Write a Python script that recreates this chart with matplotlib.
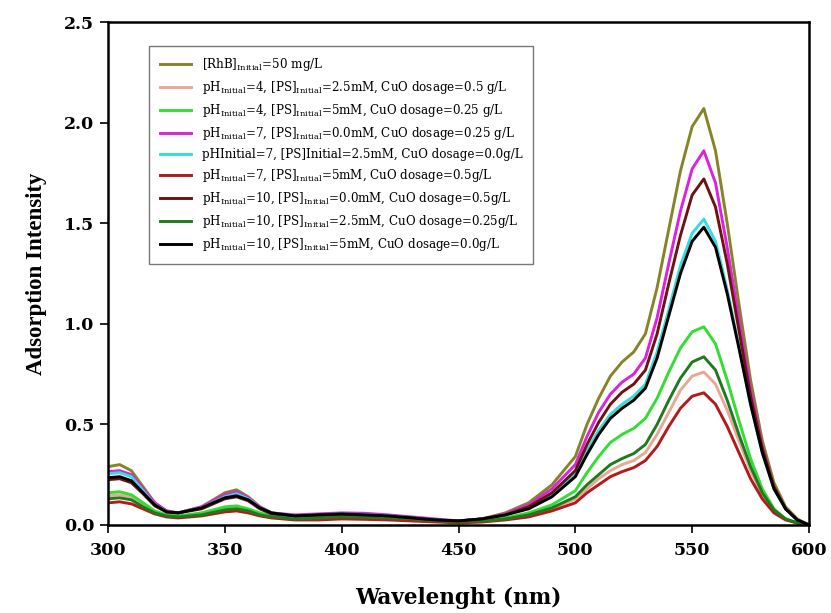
import matplotlib
matplotlib.use("Agg")
import matplotlib.pyplot as plt

wavelength = [300, 305, 310, 315, 320, 325, 330, 340, 350, 355, 360, 365, 370, 380, 390,
              400, 410, 420, 430, 440, 450, 460, 470, 480, 490,
              500, 505, 510, 515, 520, 525, 530, 535, 540, 545, 550, 555, 560, 565, 570,
              575, 580, 585, 590, 595, 600]

rhb_initial = [.29, .30, .27, .19, .11, .07, .06, .09, .16, .175, .14, .09, .06, .045, .045,
               .05, .045, .04, .035, .025, .02, .03, .06, .11, .20,
               .34, .50, .63, .74, .81, .86, .95, 1.18, 1.47, 1.76, 1.98, 2.07, 1.86, 1.50, 1.10,
               .72, .42, .21, .09, .03, 0.0]
ph4_ps25_cuo05 = [.145, .15, .14, .10, .065, .045, .04, .055, .08, .085, .075, .055, .04, .03, .03,
                  .035, .033, .03, .025, .02, .015, .015, .03, .045, .08,
                  .13, .18, .23, .27, .30, .32, .36, .45, .56, .67, .74, .76, .70, .57, .42,
                  .27, .15, .07, .03, .01, 0.0]
ph4_ps5_cuo025 = [.16, .165, .15, .11, .07, .05, .045, .06, .09, .095, .08, .06, .045, .035, .035,
                  .04, .038, .035, .03, .02, .015, .02, .035, .06, .10,
                  .17, .26, .34, .41, .45, .48, .53, .63, .76, .88, .96, .985, .90, .72, .52,
                  .33, .18, .08, .03, .01, 0.0]
ph7_ps0_cuo025 = [.265, .27, .25, .18, .11, .07, .06, .09, .15, .165, .135, .09, .06, .05, .055,
                  .06, .058, .05, .04, .03, .02, .03, .055, .10, .18,
                  .30, .44, .56, .65, .71, .75, .83, 1.03, 1.30, 1.56, 1.77, 1.86, 1.70, 1.38, 1.02,
                  .67, .39, .19, .08, .025, 0.0]
ph7_ps25_cuo0 = [.255, .26, .24, .17, .10, .065, .06, .085, .14, .155, .13, .085, .06, .045, .05,
                 .055, .05, .045, .035, .025, .02, .03, .05, .085, .15,
                 .25, .37, .47, .55, .60, .64, .70, .86, 1.07, 1.29, 1.45, 1.52, 1.41, 1.17, .89,
                 .60, .36, .18, .08, .025, 0.0]
ph7_ps5_cuo05 = [.11, .115, .105, .08, .055, .04, .035, .045, .065, .07, .06, .045, .035, .025, .025,
                 .03, .028, .025, .02, .015, .01, .015, .025, .04, .07,
                 .11, .16, .20, .24, .265, .285, .32, .39, .49, .58, .64, .657, .60, .49, .36,
                 .23, .13, .06, .025, .01, 0.0]
ph10_ps0_cuo05 = [.225, .23, .21, .155, .095, .065, .06, .08, .13, .14, .12, .08, .055, .045, .05,
                  .05, .048, .04, .035, .025, .02, .03, .05, .09, .16,
                  .27, .40, .51, .60, .66, .70, .77, .95, 1.20, 1.44, 1.64, 1.72, 1.58, 1.30, .97,
                  .64, .38, .19, .08, .025, 0.0]
ph10_ps25_cuo025 = [.13, .135, .125, .09, .06, .045, .04, .05, .075, .08, .07, .05, .04, .03, .035,
                    .04, .038, .035, .03, .02, .015, .02, .03, .05, .085,
                    .14, .20, .25, .30, .33, .355, .40, .50, .62, .73, .81, .836, .77, .62, .45,
                    .29, .16, .075, .03, .01, 0.0]
ph10_ps5_cuo0 = [.235, .24, .22, .16, .10, .065, .06, .085, .135, .145, .125, .085, .06, .045, .05,
                 .055, .05, .045, .035, .025, .02, .03, .05, .08, .14,
                 .24, .35, .45, .53, .58, .62, .68, .83, 1.04, 1.25, 1.41, 1.48, 1.38, 1.15, .88,
                 .60, .36, .18, .08, .025, 0.0]

labels = [
    r'[RhB]$_{\mathrm{Initial}}$=50 mg/L',
    r'pH$_{\mathrm{Initial}}$=4, [PS]$_{\mathrm{Initial}}$=2.5mM, CuO dosage=0.5 g/L',
    r'pH$_{\mathrm{Initial}}$=4, [PS]$_{\mathrm{Initial}}$=5mM, CuO dosage=0.25 g/L',
    r'pH$_{\mathrm{Initial}}$=7, [PS]$_{\mathrm{Initial}}$=0.0mM, CuO dosage=0.25 g/L',
    r'pHInitial=7, [PS]Initial=2.5mM, CuO dosage=0.0g/L',
    r'pH$_{\mathrm{Initial}}$=7, [PS]$_{\mathrm{Initial}}$=5mM, CuO dosage=0.5g/L',
    r'pH$_{\mathrm{Initial}}$=10, [PS]$_{\mathrm{Initial}}$=0.0mM, CuO dosage=0.5g/L',
    r'pH$_{\mathrm{Initial}}$=10, [PS]$_{\mathrm{Initial}}$=2.5mM, CuO dosage=0.25g/L',
    r'pH$_{\mathrm{Initial}}$=10, [PS]$_{\mathrm{Initial}}$=5mM, CuO dosage=0.0g/L',
]
series = [rhb_initial, ph4_ps25_cuo05, ph4_ps5_cuo025, ph7_ps0_cuo025, ph7_ps25_cuo0,
          ph7_ps5_cuo05, ph10_ps0_cuo05, ph10_ps25_cuo025, ph10_ps5_cuo0]
colors = ['#858528', '#E8A898', '#33DD33', '#DD22DD', '#33DDE0',
          '#B51A1A', '#6E1212', '#1F7A1F', '#000000']

x_ticks = [300, 350, 400, 450, 500, 550, 600]
y_ticks = [0.0, 0.5, 1.0, 1.5, 2.0, 2.5]

plt.rcParams['mathtext.fontset'] = 'dejavuserif'

fig = plt.figure(figsize=(8.31, 6.13), dpi=100)
ax = fig.add_axes([0.130, 0.1436, 0.8435, 0.8205])

for y, c, lab in zip(series, colors, labels):
    ax.plot(wavelength, y, color=c, lw=2.1, label=lab, solid_joinstyle='round')

ax.set_xlim(300, 600)
ax.set_ylim(0, 2.5)
ax.set_xticks(x_ticks)
ax.set_yticks(y_ticks)
ax.set_xticklabels([str(v) for v in x_ticks], fontfamily='DejaVu Serif', fontweight='bold', fontsize=12.5)
ax.set_yticklabels([f'{v:.1f}' for v in y_ticks], fontfamily='DejaVu Serif', fontweight='bold', fontsize=12.5)
ax.tick_params(direction='out', length=6, width=1.2, top=False, right=False)
ax.tick_params(axis='x', pad=6)
ax.tick_params(axis='y', pad=4)
for s in ax.spines.values():
    s.set_linewidth(1.8)

ax.set_xlabel('Wavelenght (nm)', fontfamily='DejaVu Serif', fontweight='bold', fontsize=15.5, labelpad=20)
ax.set_ylabel('Adsorption Intensity', fontfamily='Liberation Serif', fontweight='bold', fontsize=16.5, labelpad=12)

leg = ax.legend(loc='upper left', bbox_to_anchor=(0.05, 0.965), fancybox=False,
                prop={'family': 'DejaVu Serif', 'size': 8.6}, handlelength=2.6,
                labelspacing=0.5, borderpad=0.9, handletextpad=0.9)
leg.get_frame().set_edgecolor('#555555')
leg.get_frame().set_linewidth(1.0)

fig.savefig('out.png', dpi=100)
